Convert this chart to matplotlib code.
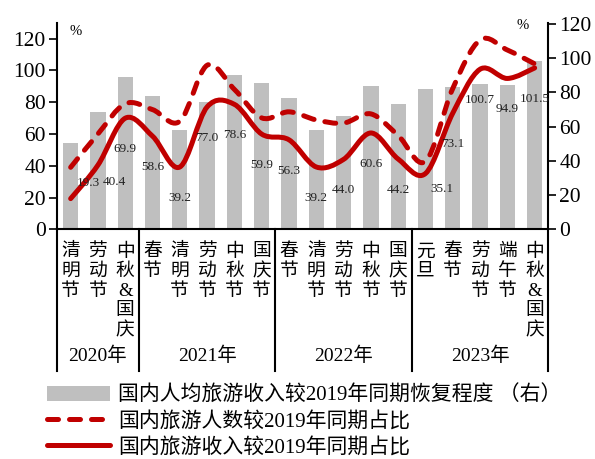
import numpy as np
import matplotlib
matplotlib.use('Agg')
import matplotlib.pyplot as plt
from matplotlib.path import Path
from matplotlib.patches import PathPatch, Patch
from matplotlib.lines import Line2D

plt.rcParams['font.family'] = ['Liberation Serif', 'Noto Sans CJK SC']

categories = ['清明节', '劳动节', '中秋&国庆', '春节', '清明节', '劳动节', '中秋节', '国庆节',
              '春节', '清明节', '劳动节', '中秋节', '国庆节',
              '元旦', '春节', '劳动节', '端午节', '中秋&国庆']
years = ['2020年', '2021年', '2022年', '2023年']
year_counts = [3, 5, 5, 5]
per_capita = [50.2, 68.7, 88.8, 77.9, 57.8, 74.5, 90.3, 85.7, 76.4,
              57.8, 66.0, 83.5, 73.0, 82.2, 83.0, 84.9, 84.5, 98.2]
tourists = [39.0, 60.0, 79.0, 75.3, 68.0, 103.2, 88.0, 70.1, 73.9,
            68.8, 66.8, 72.6, 59.0, 42.8, 88.6, 119.1, 112.8, 104.1]
revenue = [19.3, 40.4, 69.9, 58.6, 39.2, 77.0, 78.6, 59.9, 56.3,
           39.2, 44.0, 60.6, 44.2, 35.1, 73.1, 100.7, 94.9, 101.5]
legend_labels = ['国内人均旅游收入较2019年同期恢复程度 （右）',
                 '国内旅游人数较2019年同期占比',
                 '国内旅游收入较2019年同期占比']

RED = '#C00000'
GRAY = '#BFBFBF'


def smooth_path(xs, ys):
    pts = np.column_stack([xs, ys]).astype(float)
    n = len(pts)
    verts = [tuple(pts[0])]
    codes = [Path.MOVETO]
    for i in range(n - 1):
        p0 = pts[i - 1] if i > 0 else pts[i]
        p1 = pts[i]
        p2 = pts[i + 1]
        p3 = pts[i + 2] if i + 2 < n else pts[i + 1]
        c1 = p1 + (p2 - p0) / 6.0
        c2 = p2 - (p3 - p1) / 6.0
        verts += [tuple(c1), tuple(c2), tuple(p2)]
        codes += [Path.CURVE4] * 3
    return Path(verts, codes)


fig = plt.figure(figsize=(5.95, 4.59), dpi=100)
ax = fig.add_axes([57 / 595, 1 - 229.3 / 459, (548.3 - 57) / 595, 206 / 459])
ax2 = ax.twinx()
ax.set_zorder(ax2.get_zorder() + 1)
ax.patch.set_visible(False)

x = np.arange(len(categories))
ax2.bar(x, per_capita, width=0.56, color=GRAY, zorder=1)

dash_style = (0, (2.2, 2.2))
pp_d = PathPatch(smooth_path(x, tourists), fill=False, edgecolor=RED, lw=3.6,
                 linestyle=dash_style, capstyle='round', joinstyle='round', zorder=3)
pp_s = PathPatch(smooth_path(x, revenue), fill=False, edgecolor=RED, lw=3.6,
                 capstyle='round', joinstyle='round', zorder=3)
ax.add_patch(pp_d)
ax.add_patch(pp_s)

offsets = {0: (18, 16), 1: (16, -17), 13: (16, -15)}
for i, v in enumerate(revenue):
    dx, dy = offsets.get(i, (0, -31))
    ax.annotate(f'{v:.1f}', (i, v), xytext=(dx, dy), textcoords='offset pixels',
                ha='center', va='center', fontsize=9.5, color='#222222', zorder=4)

ax.set_xlim(-0.5, len(categories) - 0.5)
ax.set_ylim(0, 129.6)
ax2.set_ylim(0, 120.3)
ax.set_yticks(range(0, 121, 20))
ax2.set_yticks(range(0, 121, 20))
ax.set_xticks([])
for a in (ax, ax2):
    a.tick_params(axis='y', labelsize=15.5, length=6, width=1.2, direction='out', pad=2)
    for s in a.spines.values():
        s.set_linewidth(1.5)
    a.spines['top'].set_visible(False)
ax.spines['right'].set_visible(False)
ax2.spines['left'].set_visible(False)
ax2.spines['bottom'].set_visible(False)

ax.text(0.037, 0.96, '%', transform=ax.transAxes, fontsize=10.5, ha='center', va='center')
ax2.text(0.947, 0.99, '%', transform=ax.transAxes, fontsize=10.5, ha='center', va='center')

trans = ax.get_xaxis_transform()
for i, c in enumerate(categories):
    ax.text(i, -0.068, '\n'.join(list(c)), transform=trans, ha='center', va='top',
            fontsize=13.5, linespacing=1.2, clip_on=False)

start = 0
bounds = [-0.5]
for y, n in zip(years, year_counts):
    center = start + (n - 1) / 2
    ax.text(center, -0.612, y, transform=trans, ha='center', va='center', fontsize=14)
    start += n
    bounds.append(start - 0.5)
for b in bounds:
    ax.plot([b, b], [0, -0.69], transform=trans, color='black', lw=1.5, clip_on=False)

handles = [Patch(facecolor=GRAY, edgecolor='none'),
           Line2D([], [], color=RED, lw=3.6, linestyle=dash_style, dash_capstyle='round'),
           Line2D([], [], color=RED, lw=3.6, solid_capstyle='round')]
fig.legend(handles, legend_labels, loc='upper left', bbox_to_anchor=(47 / 595, 1 - 386 / 459),
           frameon=False, borderpad=0, borderaxespad=0, handlelength=3.0, handletextpad=0.4,
           labelspacing=0.27, fontsize=15)

fig.savefig('out.png', dpi=100)
